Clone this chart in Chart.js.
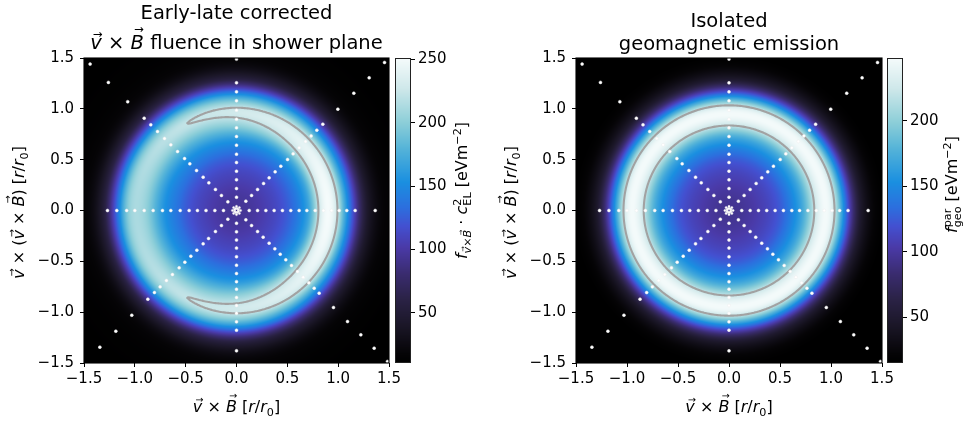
<!DOCTYPE html>
<html><head><meta charset="utf-8">
<script src="https://cdn.jsdelivr.net/npm/chart.js@4.4.1/dist/chart.umd.min.js"></script>
<style>
html,body{margin:0;padding:0;background:#fff;width:970px;height:424px;overflow:hidden;}
canvas{position:absolute;top:0;}
</style></head><body>
<canvas id="hmL" width="410" height="424" style="left:0px"></canvas>
<canvas id="cbL" width="90" height="424" style="left:395px"></canvas>
<canvas id="hmR" width="410" height="424" style="left:490px"></canvas>
<canvas id="cbR" width="83" height="424" style="left:887px"></canvas>
<script>
// ---------------- data ----------------
const axisTicks = [-1.5, -1.0, -0.5, 0.0, 0.5, 1.0, 1.5];
const cbTicksLeft = [50, 100, 150, 200, 250];
const cbTicksRight = [50, 100, 150, 200];
const cbRangeLeft = [10.5, 251];
const cbRangeRight = [15, 248];

// radial fluence profiles (eV m^-2) at distance r/r0
const radii =          [0, 0.1, 0.2, 0.3, 0.4, 0.5, 0.6, 0.7, 0.75, 0.8, 0.85, 0.9, 0.95, 1.0, 1.05, 1.1, 1.15, 1.2, 1.25, 1.3, 1.4, 1.5, 1.7, 2.2];
// left panel: early-late corrected v x B fluence, along +vxB, along +-vx(vxB), along -vxB
const fluencePlusVxB = [95, 96, 100, 106, 113, 124, 140, 165, 189, 219, 243, 251, 243, 218, 182, 148, 115, 84, 58, 40, 22, 15, 11, 10];
const fluenceSides =   [95, 96, 100, 106, 113, 124, 140, 160, 175, 191, 206, 219, 228, 225, 206, 180, 148, 112, 80, 54, 28, 17, 12, 10];
const fluenceMinusVxB =[95, 96, 100, 106, 113, 124, 139, 154, 166, 180, 194, 205, 211, 212, 204, 183, 150, 116, 84, 56, 28, 17, 12, 10];
// right panel: isolated geomagnetic emission
const geoFluence =     [95, 96, 100, 106, 113, 124, 142, 165, 182, 203, 226, 241, 247, 238, 210, 172, 132, 96, 66, 45, 25, 16, 12, 10];
const contourLevelLeft = 222;
const contourLevelRight = 220;

// antenna positions: distances along each arm of the star (r/r0)
const armE = [0.125, 0.207, 0.289, 0.370, 0.452, 0.534, 0.616, 0.692, 0.774, 0.856, 0.934, 1.010, 1.085, 1.167, 1.364];
const armW = [0.128, 0.213, 0.300, 0.384, 0.466, 0.554, 0.646, 0.728, 0.820, 0.908, 1.000, 1.080, 1.177, 1.269];
const armN = [0.131, 0.216, 0.302, 0.387, 0.472, 0.554, 0.643, 0.728, 0.813, 0.898, 0.987, 1.079, 1.167, 1.256, 1.489];
const armS = [0.125, 0.210, 0.290, 0.370, 0.455, 0.538, 0.620, 0.700, 0.774, 0.856, 0.934, 1.010, 1.095, 1.177, 1.380];
// diagonal arms: |x| = |y| component
const armNE = [0.092, 0.148, 0.207, 0.266, 0.321, 0.380, 0.436, 0.502, 0.557, 0.616, 0.679, 0.734, 0.790, 0.849, 0.997, 1.154, 1.305, 1.456];
const armNW = [0.085, 0.148, 0.207, 0.272, 0.328, 0.393, 0.459, 0.511, 0.580, 0.646, 0.708, 0.777, 0.843, 0.908, 1.070, 1.260, 1.440];
const armSE = [0.092, 0.148, 0.207, 0.262, 0.321, 0.377, 0.430, 0.485, 0.541, 0.600, 0.656, 0.711, 0.764, 0.813, 0.954, 1.092, 1.223, 1.354, 1.485];
const armSW = [0.085, 0.148, 0.207, 0.275, 0.328, 0.390, 0.449, 0.508, 0.564, 0.630, 0.689, 0.751, 0.807, 0.872, 1.030, 1.187, 1.344];
const coreRadii = [0.02, 0.04];

// ---------------- styles ----------------
const FONT = 'DejaVu Sans';
Chart.defaults.font.family = FONT;
const cmapStops = [
  [0.00, [0, 0, 0]], [0.03, [5, 4, 6]], [0.12, [26, 22, 38]], [0.207, [42, 34, 69]],
  [0.294, [58, 44, 112]], [0.38, [74, 58, 168]], [0.448, [67, 80, 208]], [0.51, [44, 111, 222]],
  [0.593, [26, 143, 224]], [0.705, [86, 180, 216]], [0.788, [140, 206, 216]], [0.90, [207, 232, 234]],
  [1.00, [245, 251, 251]]
];
function cmap(f) {
  if (f <= 0) return cmapStops[0][1];
  if (f >= 1) return cmapStops[cmapStops.length - 1][1];
  for (let i = 0; i < cmapStops.length - 1; i++) {
    const a = cmapStops[i], b = cmapStops[i + 1];
    if (f <= b[0]) {
      const t = (f - a[0]) / (b[0] - a[0]);
      return [0, 1, 2].map(k => a[1][k] + (b[1][k] - a[1][k]) * t);
    }
  }
}
function interp(rs, vs, r) {
  const n = rs.length;
  if (r <= rs[0]) return vs[0];
  if (r >= rs[n - 1]) return vs[n - 1];
  let i = 0; while (r > rs[i + 1]) i++;
  const h = rs[i + 1] - rs[i], t = (r - rs[i]) / h;
  const m0 = i > 0 ? (vs[i + 1] - vs[i - 1]) / (rs[i + 1] - rs[i - 1]) : 0;
  const m1 = i < n - 2 ? (vs[i + 2] - vs[i]) / (rs[i + 2] - rs[i]) : (vs[i + 1] - vs[i]) / h;
  const t2 = t * t, t3 = t2 * t;
  return (2 * t3 - 3 * t2 + 1) * vs[i] + (t3 - 2 * t2 + t) * h * m0 + (-2 * t3 + 3 * t2) * vs[i + 1] + (t3 - t2) * h * m1;
}
function fieldLeft(x, y) {
  const r = Math.hypot(x, y);
  const c = r > 0 ? x / r : 0;
  const p0 = interp(radii, fluencePlusVxB, r), p90 = interp(radii, fluenceSides, r), p180 = interp(radii, fluenceMinusVxB, r);
  const a = (p0 - p180) / 2, b = (p0 + p180) / 2 - p90;
  return p90 + a * c + b * c * c;
}
function fieldRight(x, y) { return interp(radii, geoFluence, Math.hypot(x, y)); }

// antenna points
const antennas = [];
const antennaSizes = [];
function addArm(list, dx, dy, size) { list.forEach(d => { antennas.push({x: d * dx, y: d * dy}); antennaSizes.push(size); }); }
addArm(armE, 1, 0, 1.5); addArm(armW, -1, 0, 1.5); addArm(armN, 0, 1, 1.5); addArm(armS, 0, -1, 1.5);
addArm(armNE, 1, 1, 1.5); addArm(armNW, -1, 1, 1.5); addArm(armSE, 1, -1, 1.5); addArm(armSW, -1, -1, 1.5);
coreRadii.forEach(cr => { for (let k = 0; k < 8; k++) { const a = k * Math.PI / 4 + (cr < 0.03 ? Math.PI / 8 : 0); antennas.push({x: cr * Math.cos(a), y: cr * Math.sin(a)}); antennaSizes.push(1.1); } });

// ---------------- helpers ----------------
function fmt(v) { return (v < -1e-9 ? '\u2212' : '') + Math.abs(v).toFixed(1); }
function drawRuns(ctx, runs, x, y, base, rot, align) {
  ctx.save();
  ctx.translate(x, y);
  if (rot) ctx.rotate(rot);
  let total = 0;
  const items = runs.map(r => {
    const size = base * (r.s || 1);
    const font = (r.it ? 'italic ' : '') + size + 'px "' + FONT + '"';
    ctx.font = font;
    const w = ctx.measureText(r.t).width;
    const adv = r.noadv ? 0 : w;
    total += adv;
    return {r, size, font, w, adv};
  });
  let cx = align === 'center' ? -total / 2 : 0;
  ctx.fillStyle = '#000'; ctx.textBaseline = 'alphabetic'; ctx.textAlign = 'left';
  for (const it of items) {
    ctx.font = it.font;
    const dy = (it.r.dy || 0) * base;
    ctx.fillText(it.r.t, cx, dy);
    if (it.r.vec) {
      const as = it.size * 0.6;
      ctx.font = as + 'px "' + FONT + '"';
      const aw = ctx.measureText('\u2192').width;
      const slant = it.r.it ? it.size * 0.1 : 0;
      ctx.fillText('\u2192', cx + it.w / 2 - aw / 2 + slant, dy - it.size * (it.r.tall ? 0.8 : 0.58));
    }
    cx += it.adv;
  }
  ctx.restore();
}

function heatPlugin(field, vmin, vmax, level) {
  return {
    id: 'heat',
    beforeDatasetsDraw(chart) {
      const {ctx, chartArea: ca, scales} = chart;
      const xs = scales.x, ys = scales.y;
      const W = Math.round(ca.right - ca.left), H = Math.round(ca.bottom - ca.top);
      const off = document.createElement('canvas'); off.width = W; off.height = H;
      const octx = off.getContext('2d');
      const img = octx.createImageData(W, H);
      for (let j = 0; j < H; j++) {
        const yv = ys.getValueForPixel(ca.top + j + 0.5);
        for (let i = 0; i < W; i++) {
          const xv = xs.getValueForPixel(ca.left + i + 0.5);
          const c = cmap((field(xv, yv) - vmin) / (vmax - vmin));
          const p = (j * W + i) * 4;
          img.data[p] = c[0]; img.data[p + 1] = c[1]; img.data[p + 2] = c[2]; img.data[p + 3] = 255;
        }
      }
      octx.putImageData(img, 0, 0);
      ctx.drawImage(off, ca.left, ca.top, W, H);
      // contour via marching squares on data grid
      const N = 220, lo = -1.5, st = 3 / N;
      const g = [];
      for (let j = 0; j <= N; j++) { g[j] = new Float32Array(N + 1); for (let i = 0; i <= N; i++) g[j][i] = field(lo + i * st, lo + j * st) - level; }
      ctx.save();
      ctx.beginPath(); ctx.rect(ca.left, ca.top, ca.right - ca.left, ca.bottom - ca.top); ctx.clip();
      ctx.beginPath();
      const P = (x, y) => [xs.getPixelForValue(x), ys.getPixelForValue(y)];
      for (let j = 0; j < N; j++) for (let i = 0; i < N; i++) {
        const x0 = lo + i * st, x1 = x0 + st, y0 = lo + j * st, y1 = y0 + st;
        const a = g[j][i], b = g[j][i + 1], c = g[j + 1][i + 1], d = g[j + 1][i];
        const pts = [];
        if (a * b < 0) pts.push(P(x0 + st * a / (a - b), y0));
        if (b * c < 0) pts.push(P(x1, y0 + st * b / (b - c)));
        if (c * d < 0) pts.push(P(x1 - st * c / (c - d), y1));
        if (d * a < 0) pts.push(P(x0, y1 - st * d / (d - a)));
        for (let k = 0; k + 1 < pts.length; k += 2) { ctx.moveTo(pts[k][0], pts[k][1]); ctx.lineTo(pts[k + 1][0], pts[k + 1][1]); }
      }
      ctx.strokeStyle = '#a2a2a2'; ctx.lineWidth = 2.1; ctx.lineCap = 'round'; ctx.lineJoin = 'round';
      ctx.stroke();
      ctx.restore();
    },
    afterDraw(chart) {
      const {ctx, chartArea: ca} = chart;
      ctx.save(); ctx.strokeStyle = '#000'; ctx.lineWidth = 1.1;
      ctx.strokeRect(ca.left, ca.top, ca.right - ca.left, ca.bottom - ca.top);
      ctx.restore();
    }
  };
}

function textPlugin(titleLines, xRuns, yRuns) {
  return {
    id: 'texts',
    afterDraw(chart) {
      const {ctx, chartArea: ca} = chart;
      const cx = (ca.left + ca.right) / 2, cy = (ca.top + ca.bottom) / 2;
      titleLines.forEach(l => drawRuns(ctx, l.runs, cx, ca.top - l.up, 19.5, 0, 'center'));
      drawRuns(ctx, xRuns, cx, ca.bottom + 49, 16, 0, 'center');
      drawRuns(ctx, yRuns, ca.left - 60, cy + 2, 16, -Math.PI / 2, 'center');
    }
  };
}

function heatChart(id, field, vrange, level, yWidth, padRight, titleLines, xRuns, yRuns) {
  const tickFont = {family: FONT, size: 15};
  return new Chart(document.getElementById(id), {
    type: 'scatter',
    data: {datasets: [{data: antennas, pointRadius: antennaSizes, pointHoverRadius: antennaSizes, backgroundColor: '#ffffff',
      borderColor: 'rgba(235,235,235,0.8)', borderWidth: 0.6}]},
    options: {
      responsive: false, animation: false, devicePixelRatio: 1, events: [],
      layout: {padding: {top: 58, left: 0, right: padRight, bottom: 0}},
      plugins: {legend: {display: false}, tooltip: {enabled: false}},
      scales: {
        x: {type: 'linear', min: -1.5, max: 1.5,
          afterBuildTicks: s => { s.ticks = axisTicks.map(v => ({value: v})); },
          afterFit: s => { s.height = 61; s.paddingLeft = 0; s.paddingRight = 0; },
          grid: {drawOnChartArea: false, drawTicks: true, tickLength: 4, tickColor: '#000', tickWidth: 1, color: '#000'},
          border: {display: false},
          ticks: {color: '#000', font: tickFont, padding: 3, maxRotation: 0, autoSkip: false, callback: v => fmt(v)}},
        y: {type: 'linear', min: -1.5, max: 1.5,
          afterBuildTicks: s => { s.ticks = axisTicks.map(v => ({value: v})); },
          afterFit: s => { s.width = yWidth; s.paddingTop = 0; s.paddingBottom = 0; },
          grid: {drawOnChartArea: false, drawTicks: true, tickLength: 4, tickColor: '#000', tickWidth: 1, color: '#000'},
          border: {display: false},
          ticks: {color: '#000', font: tickFont, padding: 6, autoSkip: false, callback: v => fmt(v)}}
      }
    },
    plugins: [heatPlugin(field, vrange[0], vrange[1], level), textPlugin(titleLines, xRuns, yRuns)]
  });
}

function cbChart(id, vrange, ticks, labelRuns, labelDx, labelDy) {
  const cv = document.getElementById(id);
  const barW = 16;
  return new Chart(cv, {
    type: 'scatter',
    data: {datasets: []},
    options: {
      responsive: false, animation: false, devicePixelRatio: 1, events: [],
      layout: {padding: {top: 58, left: 0, right: 0, bottom: 61}},
      plugins: {legend: {display: false}, tooltip: {enabled: false}},
      scales: {
        x: {display: false, min: 0, max: 1},
        y: {type: 'linear', position: 'right', min: vrange[0], max: vrange[1],
          afterBuildTicks: s => { s.ticks = ticks.map(v => ({value: v})); },
          afterFit: s => { s.width = cv.width - barW; s.paddingTop = 0; s.paddingBottom = 0; },
          grid: {drawOnChartArea: false, drawTicks: true, tickLength: 4, tickColor: '#000', tickWidth: 1, color: '#000'},
          border: {display: false},
          ticks: {color: '#000', font: {family: FONT, size: 15}, padding: 3, autoSkip: false, callback: v => String(v)}}
      }
    },
    plugins: [{
      id: 'cbar',
      beforeDatasetsDraw(chart) {
        const {ctx, chartArea: ca, scales} = chart;
        for (let y = Math.floor(ca.top); y < ca.bottom; y++) {
          const v = scales.y.getValueForPixel(y + 0.5);
          const c = cmap((v - vrange[0]) / (vrange[1] - vrange[0]));
          ctx.fillStyle = 'rgb(' + c.map(Math.round).join(',') + ')';
          ctx.fillRect(ca.left, y, ca.right - ca.left, 1);
        }
      },
      afterDraw(chart) {
        const {ctx, chartArea: ca} = chart;
        ctx.save(); ctx.strokeStyle = '#222'; ctx.lineWidth = 1;
        ctx.strokeRect(ca.left + 0.5, ca.top + 0.5, ca.right - ca.left - 1, ca.bottom - ca.top - 1);
        ctx.restore();
        drawRuns(ctx, labelRuns, ca.right + labelDx, (ca.top + ca.bottom) / 2 + labelDy, 16, -Math.PI / 2, 'center');
      }
    }]
  });
}

// ---------------- text runs ----------------
const xLabelRuns = [{t: 'v', it: 1, vec: 1}, {t: ' \u00d7 '}, {t: 'B', it: 1, vec: 1, tall: 1}, {t: ' ['}, {t: 'r', it: 1}, {t: '/'}, {t: 'r', it: 1}, {t: '0', s: 0.7, dy: 0.22}, {t: ']'}];
const yLabelRuns = [{t: 'v', it: 1, vec: 1}, {t: ' \u00d7 ('}, {t: 'v', it: 1, vec: 1}, {t: ' \u00d7 '}, {t: 'B', it: 1, vec: 1, tall: 1}, {t: ') ['}, {t: 'r', it: 1}, {t: '/'}, {t: 'r', it: 1}, {t: '0', s: 0.7, dy: 0.22}, {t: ']'}];
const titleLeft = [
  {runs: [{t: 'Early-late corrected'}], up: 39.5},
  {runs: [{t: 'v', it: 1, vec: 1}, {t: ' \u00d7 '}, {t: 'B', it: 1, vec: 1, tall: 1}, {t: ' fluence in shower plane'}], up: 9}
];
const titleRight = [
  {runs: [{t: 'Isolated'}], up: 31},
  {runs: [{t: 'geomagnetic emission'}], up: 8}
];
const cbLabelLeft = [{t: 'f', it: 1}, {t: 'v', it: 1, s: 0.7, dy: 0.28, vec: 1}, {t: '\u00d7', s: 0.7, dy: 0.28}, {t: 'B', it: 1, s: 0.7, dy: 0.28, vec: 1, tall: 1},
  {t: ' \u00b7 '}, {t: 'c', it: 1}, {t: '2', s: 0.7, dy: -0.4, noadv: 1}, {t: 'EL', s: 0.7, dy: 0.25}, {t: ' [eVm'}, {t: '\u22122', s: 0.7, dy: -0.4}, {t: ']'}];
const cbLabelRight = [{t: 'f', it: 1}, {t: 'par', s: 0.7, dy: -0.4, noadv: 1}, {t: 'geo', s: 0.7, dy: 0.28}, {t: ' [eVm'}, {t: '\u22122', s: 0.7, dy: -0.4}, {t: ']'}];

heatChart('hmL', fieldLeft, cbRangeLeft, contourLevelLeft, 84, 21, titleLeft, xLabelRuns, yLabelRuns);
cbChart('cbL', cbRangeLeft, cbTicksLeft, cbLabelLeft, 56, -20);
heatChart('hmR', fieldRight, cbRangeRight, contourLevelRight, 86, 18, titleRight, xLabelRuns, yLabelRuns);
cbChart('cbR', cbRangeRight, cbTicksRight, cbLabelRight, 54, -26);
</script>
</body></html>
